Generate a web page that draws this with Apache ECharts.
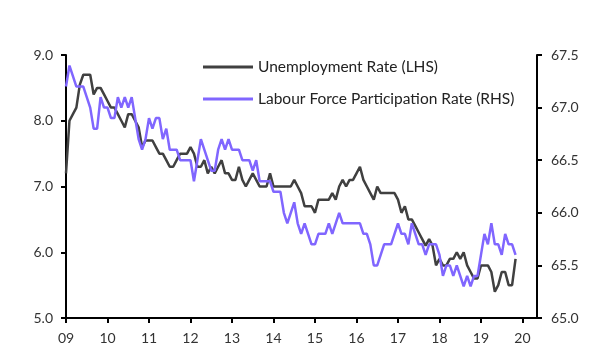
<!DOCTYPE html>
<html>
<head>
<meta charset="utf-8">
<script src="https://cdn.jsdelivr.net/npm/echarts@6/dist/echarts.min.js"></script>
<style>
html,body{margin:0;padding:0;background:#fff;}
#chart{width:612px;height:356px;}
</style>
</head>
<body>
<div id="chart"></div>
<script>
// Monthly data, Jan 2009 – Nov 2019
var startYear = 2009;
var yearTicks = [2009,2010,2011,2012,2013,2014,2015,2016,2017,2018,2019,2020];
var seriesNames = ['Unemployment Rate (LHS)', 'Labour Force Participation Rate (RHS)'];

var unemployment = [
  7.2,8.0,8.1,8.2,8.55,8.7,8.7,8.7,8.4,8.5,8.5,8.4,
  8.3,8.2,8.2,8.1,8.0,7.9,8.1,8.1,8.0,7.9,7.6,7.7,
  7.7,7.7,7.6,7.5,7.5,7.4,7.3,7.3,7.4,7.5,7.5,7.5,
  7.6,7.5,7.3,7.3,7.4,7.2,7.3,7.2,7.3,7.4,7.2,7.2,
  7.1,7.1,7.3,7.1,7.0,7.1,7.2,7.1,7.0,7.0,7.0,7.2,
  7.0,7.0,7.0,7.0,7.0,7.0,7.1,7.0,6.9,6.7,6.7,6.7,
  6.6,6.8,6.8,6.8,6.8,6.9,6.8,7.0,7.1,7.0,7.1,7.1,
  7.2,7.3,7.1,7.0,6.9,6.8,7.0,6.9,6.9,6.9,6.9,6.9,
  6.8,6.6,6.7,6.5,6.5,6.4,6.3,6.2,6.1,6.2,6.1,5.8,
  5.9,5.8,5.8,5.9,5.9,6.0,5.9,6.0,5.8,5.7,5.6,5.6,
  5.8,5.8,5.8,5.7,5.4,5.5,5.7,5.7,5.5,5.5,5.9
];

var participation = [
  67.2,67.4,67.3,67.2,67.2,67.2,67.1,67.0,66.8,66.8,67.1,67.0,
  67.0,66.9,66.9,67.1,67.0,67.1,67.0,67.1,66.9,66.7,66.6,66.7,
  66.9,66.8,66.9,66.9,66.7,66.8,66.6,66.6,66.6,66.5,66.5,66.5,
  66.5,66.3,66.5,66.7,66.6,66.5,66.4,66.4,66.6,66.7,66.6,66.7,
  66.6,66.6,66.6,66.5,66.5,66.5,66.4,66.5,66.3,66.3,66.3,66.3,
  66.2,66.2,66.2,66.0,65.9,66.0,66.1,65.9,65.8,65.9,65.8,65.7,
  65.7,65.8,65.8,65.8,65.9,65.8,65.9,66.0,65.9,65.9,65.9,65.9,
  65.9,65.9,65.8,65.8,65.7,65.5,65.5,65.6,65.7,65.7,65.7,65.8,
  65.9,65.8,65.8,65.7,65.9,65.8,65.7,65.7,65.6,65.7,65.7,65.7,
  65.6,65.4,65.5,65.5,65.4,65.5,65.4,65.3,65.4,65.3,65.4,65.4,
  65.6,65.8,65.7,65.9,65.7,65.7,65.6,65.8,65.7,65.7,65.6
];

function toPairs(arr){
  return arr.map(function(v,i){ return [startYear + i/12, v]; });
}

var FONT = 'Lato';
var chart = echarts.init(document.getElementById('chart'), null, {renderer:'canvas'});
chart.setOption({
  animation:false,
  backgroundColor:'#fff',
  grid:{left:66, right:75, top:55, bottom:38, containLabel:false},
  legend:{
    orient:'vertical', left:198, top:54, itemGap:16,
    itemWidth:50, itemHeight:3, icon:'rect',
    textStyle:{fontFamily:FONT, fontSize:15.5, color:'#222'},
    data:seriesNames
  },
  xAxis:{
    type:'value', min:2009, max:2020.35,
    splitLine:{show:false},
    axisLine:{show:true, lineStyle:{color:'#000', width:2}},
    axisTick:{show:true, length:5, lineStyle:{color:'#000', width:2}, customValues:yearTicks},
    axisLabel:{margin:13, fontFamily:FONT, fontSize:14, color:'#333', customValues:yearTicks,
      formatter:function(v){ return String(Math.round(v)).slice(2); }}
  },
  yAxis:[
    {type:'value', min:5, max:9, interval:1, position:'left',
     splitLine:{show:false},
     axisLine:{show:true, onZero:false, lineStyle:{color:'#000', width:2}},
     axisTick:{show:true, length:5, lineStyle:{color:'#000', width:2}},
     axisLabel:{margin:13, fontFamily:FONT, fontSize:14, color:'#333', formatter:function(v){return v.toFixed(1);}}},
    {type:'value', min:65, max:67.5, interval:0.5, position:'right',
     splitLine:{show:false},
     axisLine:{show:true, onZero:false, lineStyle:{color:'#000', width:2}},
     axisTick:{show:true, length:5, lineStyle:{color:'#000', width:2}},
     axisLabel:{margin:14, fontFamily:FONT, fontSize:14, color:'#333', formatter:function(v){return v.toFixed(1);}}}
  ],
  series:[
    {name:seriesNames[0], type:'line', yAxisIndex:0, data:toPairs(unemployment),
     symbol:'none', lineStyle:{color:'#404040', width:2.5}, itemStyle:{color:'#404040'}, z:2},
    {name:seriesNames[1], type:'line', yAxisIndex:1, data:toPairs(participation),
     symbol:'none', lineStyle:{color:'#8066ff', width:2.5}, itemStyle:{color:'#8066ff'}, z:3}
  ]
});
</script>
</body>
</html>
